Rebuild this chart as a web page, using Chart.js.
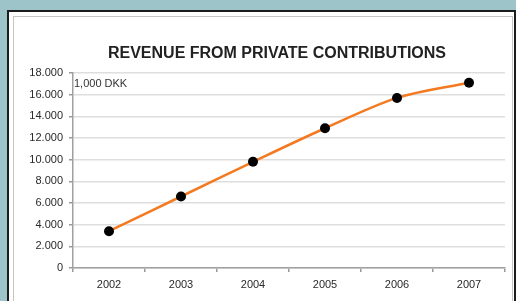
<!DOCTYPE html>
<html>
<head>
<meta charset="utf-8">
<script src="https://cdn.jsdelivr.net/npm/chart.js@4"></script>
<style>
  html, body { margin: 0; padding: 0; }
  body { width: 516px; height: 301px; background: #9dc5c9; position: relative; overflow: hidden; font-family: "Liberation Sans", Arial, sans-serif; }
  .outer { position: absolute; left: 7px; top: 10px; width: 505px; height: 400px; border: 2px solid #1c1c1c; background: #fff; }
  .inner { position: absolute; left: 13px; top: 16px; width: 498px; height: 400px; border: 1px solid #c4c4c4; }
  .title { position: absolute; left: 0; width: 554px; top: 44px; text-align: center; font-weight: bold; font-size: 16px; line-height: 18px; color: #222; }
  .unit { position: absolute; left: 74px; top: 77px; font-size: 11px; line-height: 12px; color: #333; }
  #wrap { position: absolute; left: 0; top: 0; width: 516px; height: 301px; }
</style>
</head>
<body>
<div class="outer"></div>
<div class="inner"></div>
<div id="wrap"><canvas id="chart"></canvas></div>
<div class="title">REVENUE FROM PRIVATE CONTRIBUTIONS</div>
<div class="unit">1,000 DKK</div>
<script>
// data (1,000 DKK)
const years = ['2002', '2003', '2004', '2005', '2006', '2007'];
const revenue = [3400, 6600, 9800, 12900, 15700, 17100];
const yMax = 18000;
const yStep = 2000;

function fmt(v) {
  // thousands separator is a dot in the original
  return v === 0 ? '0' : v.toLocaleString('de-DE');
}

const ctx = document.getElementById('chart').getContext('2d');
new Chart(ctx, {
  type: 'line',
  data: {
    labels: years,
    datasets: [{
      data: revenue,
      borderColor: '#f47a22',
      borderWidth: 2.5,
      tension: 0.3,
      pointRadius: 5,
      pointBackgroundColor: '#000',
      pointBorderColor: '#000',
      pointBorderWidth: 0,
      fill: false
    }]
  },
  options: {
    responsive: true,
    maintainAspectRatio: false,
    animation: false,
    layout: { padding: { top: 73, right: 11, left: 0, bottom: 0 } },
    plugins: {
      legend: { display: false },
      tooltip: { enabled: false }
    },
    scales: {
      x: {
        offset: true,
        afterFit: s => { s.height = 33; },
        grid: { display: true, drawOnChartArea: false, drawTicks: true, tickLength: 4, offset: true, color: '#999', lineWidth: 1.5 },
        border: { color: '#a0a0a0', width: 1.5 },
        ticks: { color: '#2a2a2a', padding: 6, font: { family: 'Liberation Sans', size: 11 } }
      },
      y: {
        min: 0,
        max: yMax,
        afterFit: s => { s.width = 73; },
        grid: { color: '#dedede', lineWidth: 1.5, tickLength: 4, tickColor: '#999' },
        border: { color: '#a0a0a0', width: 1.5 },
        ticks: { stepSize: yStep, color: '#2a2a2a', padding: 6, font: { family: 'Liberation Sans', size: 11 }, callback: v => fmt(v) }
      }
    }
  }
});
</script>
</body>
</html>
